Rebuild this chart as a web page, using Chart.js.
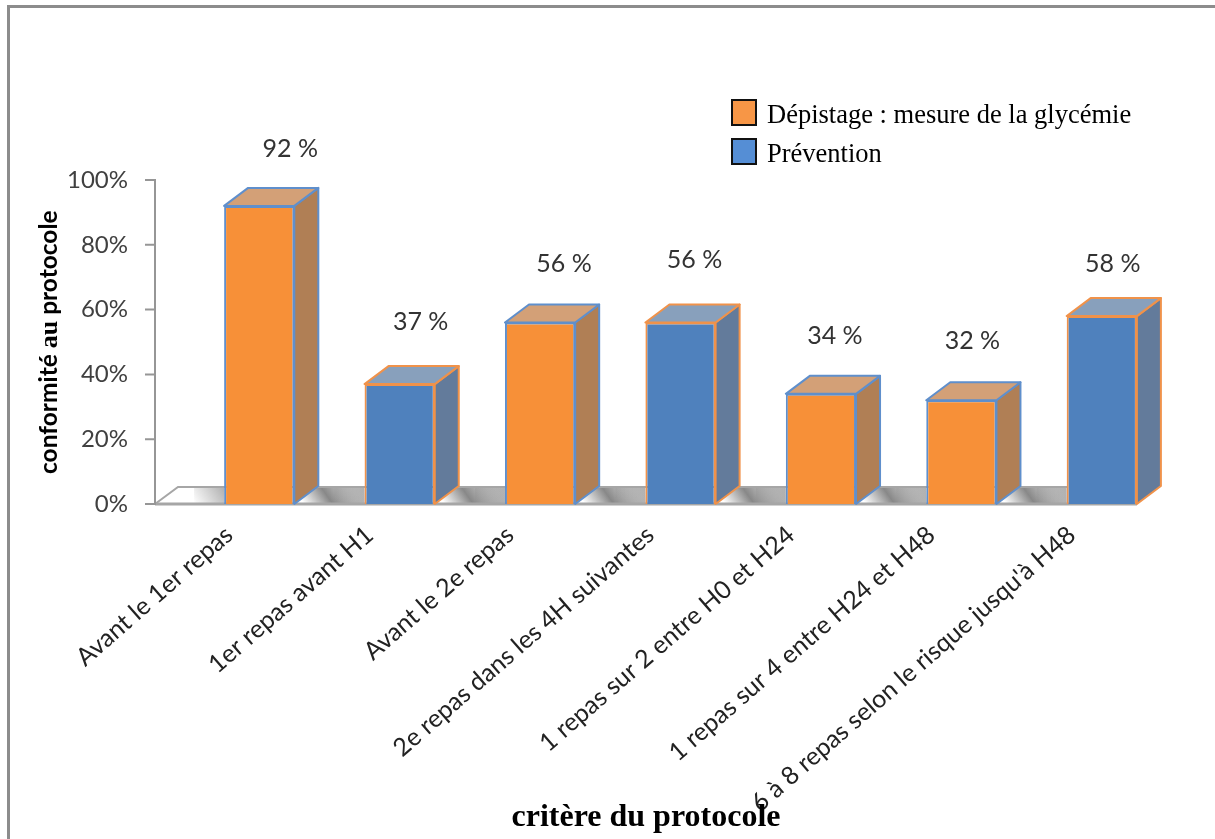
<!DOCTYPE html>
<html lang="fr">
<head>
<meta charset="utf-8">
<title>Conformité au protocole</title>
<script src="https://cdn.jsdelivr.net/npm/chart.js@4"></script>
<style>
    html, body { margin: 0; background: #fff; overflow: hidden; }
    #frame { position: absolute; left: 7px; top: 5px; width: 1300px; height: 900px;
             border-left: 3px solid #8c8c8c; border-top: 3px solid #8c8c8c; }
    #graph { position: absolute; left: 0; top: 0; }
</style>
</head>
<body>
<div id="frame"></div>
<canvas id="graph" width="1215" height="839"></canvas>
<script>
// Données
const categories = [
    'Avant le 1er repas', '1er repas avant H1', 'Avant le 2e repas',
    '2e repas dans les 4H suivantes', '1 repas sur 2 entre H0 et H24',
    '1 repas sur 4 entre H24 et H48', "6 à 8 repas selon le risque jusqu'à H48"
];
const depistage = [92, null, 56, null, 34, 32, null];
const prevention = [null, 37, null, 56, null, null, 58];
const yTicks = [0, 20, 40, 60, 80, 100];
const legendLabels = ['Dépistage : mesure de la glycémie', 'Prévention'];

// Décalage manuel des étiquettes de valeur (placées à la main dans l'original)
const labelShift = [[31, -57], [21, -62], [24, -59], [14, -63], [14, -58], [11, -59], [11, -52]];

const DX = 24, DY = 18;
const serif = '"Liberation Serif", serif';
const sans = 'Lato, sans-serif';

const faces = [
    { front: '#f79038', edge: '#5f8fcc', side: '#b07f55', top: '#d3a077', swatch: '#f79646' },
    { front: '#4f81bd', edge: '#f0924a', side: '#637b9b', top: '#88a0bc', swatch: '#558ed5' }
];

function poly(ctx, pts) {
    ctx.beginPath();
    pts.forEach((p, i) => i ? ctx.lineTo(p[0], p[1]) : ctx.moveTo(p[0], p[1]));
    ctx.closePath();
}

// Sol, ombres et faces 3D derrière les barres
const box3d = {
    id: 'box3d',
    beforeDatasetsDraw(chart) {
        const ctx = chart.ctx;
        const yBase = chart.scales.y.getPixelForValue(0);
        const axisX = 155;
        const bars = [];
        chart.data.datasets.forEach((ds, d) => {
            chart.getDatasetMeta(d).data.forEach((el, i) => {
                if (ds.data[i] !== null) bars.push({ el, d, i });
            });
        });
        const lastRight = 1067;

        ctx.save();
        // ombres sur le sol
        ctx.save();
        ctx.beginPath();
        ctx.rect(axisX, yBase - DY, lastRight - axisX, DY);
        ctx.clip();
        bars.forEach(({ el }) => {
            const l = el.x - el.width / 2, r = el.x + el.width / 2;
            let g = ctx.createLinearGradient(l - 30, yBase, l, yBase - DY);
            g.addColorStop(0, 'rgba(120,120,120,0)');
            g.addColorStop(1, 'rgba(120,120,120,0.6)');
            ctx.fillStyle = g;
            ctx.fillRect(l - 30, yBase - DY, 30, DY);
            g = ctx.createLinearGradient(r + 14, yBase + 6, r + 62, yBase - DY - 10);
            g.addColorStop(0, 'rgba(90,90,90,0)');
            g.addColorStop(0.4, 'rgba(90,90,90,0.72)');
            g.addColorStop(1, 'rgba(90,90,90,0)');
            ctx.fillStyle = g;
            ctx.fillRect(r, yBase - DY, 72, DY);
        });
        ctx.restore();

        // contour du sol
        ctx.strokeStyle = '#a6a6a6';
        ctx.lineWidth = 2;
        ctx.beginPath();
        ctx.moveTo(axisX, yBase);
        ctx.lineTo(axisX + DX - 1, yBase - DY + 1);
        ctx.lineTo(lastRight, yBase - DY + 1);
        ctx.stroke();
        ctx.lineWidth = 3;
        ctx.beginPath();
        ctx.moveTo(axisX, yBase);
        ctx.lineTo(lastRight + 70, yBase);
        ctx.stroke();

        // faces latérale et supérieure
        bars.forEach(({ el, d }) => {
            const f = faces[d];
            const l = el.x - el.width / 2, r = el.x + el.width / 2;
            ctx.lineWidth = 2;
            ctx.lineJoin = 'round';
            ctx.strokeStyle = f.edge;
            ctx.fillStyle = f.side;
            poly(ctx, [[r, el.y], [r + DX, el.y - DY], [r + DX, el.base - DY], [r, el.base]]);
            ctx.fill();
            ctx.stroke();
            ctx.fillStyle = f.top;
            poly(ctx, [[l, el.y], [l + DX, el.y - DY], [r + DX, el.y - DY], [r, el.y]]);
            ctx.fill();
            ctx.stroke();
        });
        ctx.restore();
    },
    afterDraw(chart) {
        const ctx = chart.ctx;
        const y = chart.scales.y;
        ctx.save();

        // axe vertical et graduations
        ctx.strokeStyle = '#969696';
        ctx.lineWidth = 2;
        ctx.beginPath();
        ctx.moveTo(155, y.getPixelForValue(100) - 1);
        ctx.lineTo(155, y.getPixelForValue(0) + 1);
        yTicks.forEach(t => {
            ctx.moveTo(145, y.getPixelForValue(t));
            ctx.lineTo(155, y.getPixelForValue(t));
        });
        ctx.stroke();

        // étiquettes de valeur
        ctx.font = '25px ' + sans;
        ctx.fillStyle = '#333';
        ctx.textAlign = 'center';
        ctx.textBaseline = 'middle';
        chart.data.datasets.forEach((ds, d) => {
            chart.getDatasetMeta(d).data.forEach((el, i) => {
                if (ds.data[i] === null) return;
                ctx.fillText(ds.data[i] + ' %', el.x + labelShift[i][0], el.y + labelShift[i][1]);
            });
        });

        // légende
        ctx.textAlign = 'left';
        ctx.textBaseline = 'alphabetic';
        ctx.font = '26.5px ' + serif;
        chart.data.datasets.forEach((ds, d) => {
            const top = 100 + d * 39;
            ctx.fillStyle = faces[d].swatch;
            ctx.strokeStyle = '#111';
            ctx.lineWidth = 2;
            ctx.fillRect(732, top, 24, 25);
            ctx.strokeRect(732, top, 24, 25);
            ctx.fillStyle = '#000';
            ctx.fillText(ds.label, 767, top + 23);
        });

        // titre de l'axe x
        ctx.textAlign = 'center';
        ctx.font = 'bold 32px ' + serif;
        ctx.fillText('critère du protocole', 646, 826);

        // titre de l'axe y, avec « au » en empattement
        ctx.translate(57, 474);
        ctx.rotate(-Math.PI / 2);
        ctx.textAlign = 'left';
        let x = 0;
        [['conformité ', 'bold 24.5px ' + sans], ['au', 'bold 26px ' + serif], [' protocole', 'bold 24.5px ' + sans]]
            .forEach(([txt, font]) => {
                ctx.font = font;
                ctx.fillText(txt, x, 0);
                x += ctx.measureText(txt).width;
            });
        ctx.restore();
    }
};

new Chart(document.getElementById('graph'), {
    type: 'bar',
    data: {
        labels: categories,
        datasets: [depistage, prevention].map((values, d) => ({
            label: legendLabels[d],
            data: values,
            backgroundColor: faces[d].front,
            borderColor: faces[d].edge,
            borderWidth: 2,
            categoryPercentage: 0.5,
            barPercentage: 1
        }))
    },
    options: {
        responsive: false,
        animation: false,
        layout: { padding: { top: 180, right: 43 } },
        plugins: { legend: { display: false }, tooltip: { enabled: false } },
        scales: {
            x: {
                stacked: true,
                grid: { display: false, drawTicks: false },
                border: { display: false },
                afterFit: s => { s.height = 335; },
                ticks: {
                    autoSkip: false,
                    minRotation: 41,
                    maxRotation: 41,
                    padding: 16,
                    labelOffset: -30,
                    color: '#222',
                    font: { family: 'Lato', size: 25 }
                }
            },
            y: {
                stacked: true,
                min: 0,
                max: 100,
                grid: { display: false, drawTicks: false },
                border: { display: false },
                afterFit: s => { s.width = 189; },
                afterBuildTicks: s => { s.ticks = yTicks.map(v => ({ value: v })); },
                ticks: {
                    padding: 61,
                    color: '#404040',
                    font: { family: 'Lato', size: 24 },
                    callback: v => v + '%'
                }
            }
        }
    },
    plugins: [box3d]
});
</script>
</body>
</html>
